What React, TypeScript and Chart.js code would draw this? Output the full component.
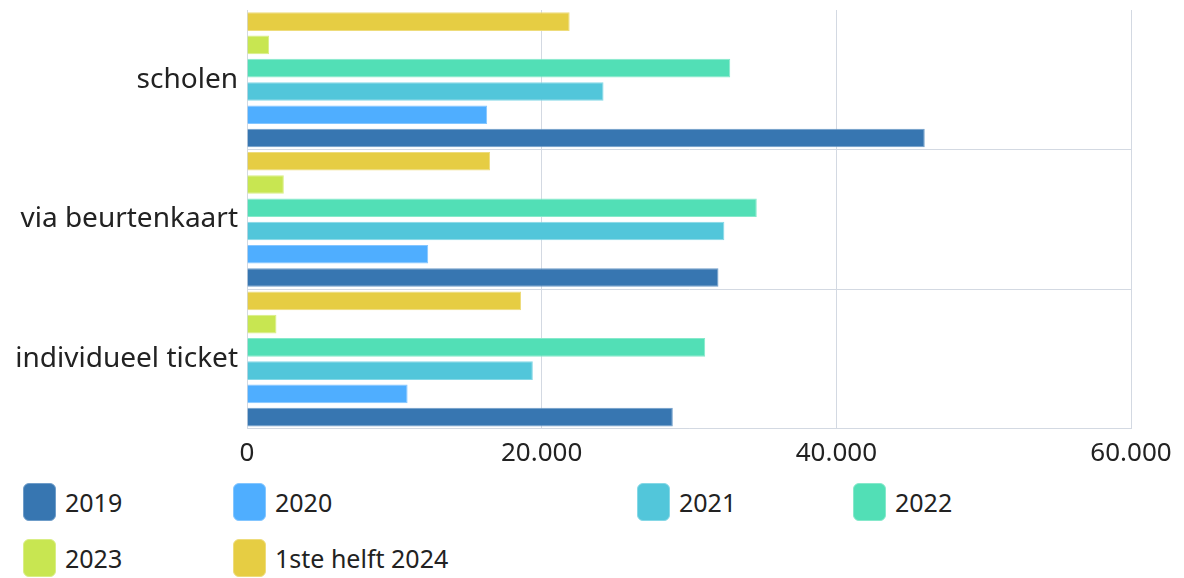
import React, { useEffect, useRef } from "react";
import { Chart, registerables } from "chart.js";

Chart.register(...registerables);

const categories = ["scholen", "via beurtenkaart", "individueel ticket"];
const seriesNames = ["2019", "2020", "2021", "2022", "2023", "1ste helft 2024"];
const values2019 = [46000, 32000, 28900];
const values2020 = [16300, 12300, 10900];
const values2021 = [24200, 32400, 19400];
const values2022 = [32800, 34600, 31100];
const values2023 = [1500, 2500, 2000];
const values2024 = [21900, 16500, 18600];
const seriesColors = ["#3776b1", "#4faeff", "#52c6da", "#52dfb6", "#c8e651", "#e6cd43"];
const seriesBorders = ["#6f9dc9", "#84c6ff", "#86d8e6", "#86e9cb", "#d9ee85", "#eedc7b"];
const xMax = 60000;
const xStep = 20000;

const FONT = "'Noto Sans', 'Open Sans', sans-serif";
const GRID = "#d3d9e2";

const fmt = (v: number) => String(Math.round(v)).replace(/\B(?=(\d{3})+(?!\d))/g, ".");

export default function App() {
  const ref = useRef<HTMLCanvasElement>(null);

  useEffect(() => {
    if (!ref.current) return;
    const all = [values2019, values2020, values2021, values2022, values2023, values2024];
    const datasets = all
      .map((data, i) => ({
        label: seriesNames[i],
        data,
        backgroundColor: seriesColors[i],
        borderColor: seriesBorders[i],
        borderWidth: 1,
        categoryPercentage: 1,
        barPercentage: 0.8,
      }))
      .reverse();
    const chart = new Chart(ref.current, {
      type: "bar",
      data: { labels: categories, datasets },
      options: {
        indexAxis: "y",
        animation: false,
        responsive: true,
        maintainAspectRatio: false,
        layout: { padding: { top: 2, left: 0, right: 0, bottom: 0 } },
        plugins: { legend: { display: false }, tooltip: { enabled: false } },
        scales: {
          x: {
            min: 0,
            max: xMax,
            afterFit: (s: any) => {
              s.paddingRight = 45;
              s.paddingLeft = 0;
            },
            ticks: {
              stepSize: xStep,
              padding: 9,
              color: "#222",
              font: { family: FONT, size: 26 },
              callback: (v: any) => fmt(Number(v)),
            },
            grid: { color: GRID, drawTicks: false },
            border: { color: GRID },
          },
          y: {
            afterFit: (s: any) => {
              s.width = 239;
              s.paddingTop = 0;
              s.paddingBottom = 0;
            },
            ticks: {
              padding: 9,
              color: "#222",
              font: { family: FONT, size: 28 },
            },
            grid: {
              drawTicks: false,
              color: (ctx: any) => (ctx.index === 0 ? "rgba(0,0,0,0)" : GRID),
            },
            border: { color: GRID },
          },
        },
      },
    });
    return () => chart.destroy();
  }, []);

  const legendCols = "210px 404px 216px auto";
  return (
    <div style={{ fontFamily: FONT, width: 1168 }}>
      <div style={{ position: "relative", height: 470 }}>
        <canvas ref={ref} />
      </div>
      <div
        style={{
          display: "grid",
          gridTemplateColumns: legendCols,
          rowGap: 18,
          paddingLeft: 15,
          marginTop: 5,
        }}
      >
        {seriesNames.map((n, i) => (
          <div key={n} style={{ display: "flex", alignItems: "center", height: 38 }}>
            <span
              style={{
                display: "inline-block",
                width: 33,
                height: 38,
                borderRadius: 6,
                background: seriesColors[i],
                border: `1px solid ${seriesBorders[i]}`,
                boxSizing: "border-box",
                marginRight: 9,
              }}
            />
            <span style={{ fontSize: 25, color: "#222", lineHeight: "38px" }}>{n}</span>
          </div>
        ))}
      </div>
    </div>
  );
}
